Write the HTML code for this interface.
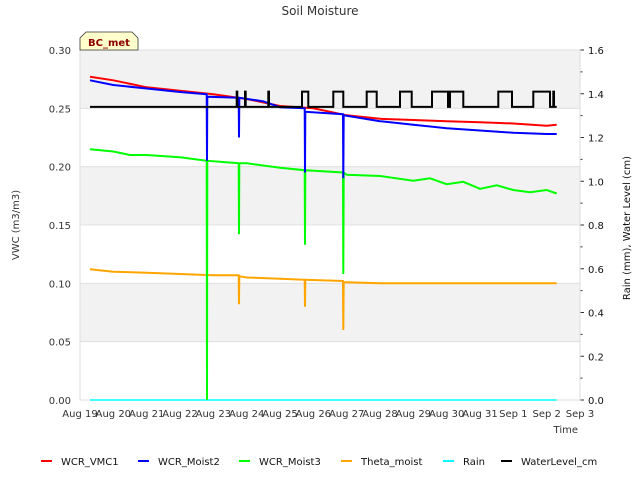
<!DOCTYPE html>
<html><head><meta charset="utf-8"><style>
body{margin:0;background:#fff;font-family:"Liberation Sans","DejaVu Sans",sans-serif}
svg text{font-family:"DejaVu Sans","Liberation Sans",sans-serif}
</style></head><body>
<svg id="c" width="640" height="480" xmlns="http://www.w3.org/2000/svg"></svg>
<script>
const dayLabels=["Aug 19","Aug 20","Aug 21","Aug 22","Aug 23","Aug 24","Aug 25","Aug 26","Aug 27","Aug 28","Aug 29","Aug 30","Aug 31","Sep 1","Sep 2","Sep 3"];
const leftTicks=[0,0.05,0.10,0.15,0.20,0.25,0.30];
const rightTicks=[0,0.2,0.4,0.6,0.8,1.0,1.2,1.4,1.6];
const vmc1T=[0.3,1,2,3,4,5,6,7,8,9,10,11,12,13,14,14.3];
const vmc1V=[0.277,0.274,0.268,0.265,0.262,0.258,0.252,0.250,0.244,0.241,0.240,0.239,0.238,0.237,0.235,0.236];
const m2T=[0.3,1,2,3,3.8,3.81,3.82,4.76,4.77,4.78,5.5,6,6.74,6.75,6.76,7.89,7.9,7.91,9,10,11,12,13,14,14.3];
const m2V=[0.274,0.270,0.267,0.264,0.262,0.205,0.260,0.259,0.225,0.259,0.256,0.251,0.250,0.195,0.247,0.245,0.19,0.244,0.239,0.236,0.233,0.231,0.229,0.228,0.228];
const m3T=[0.3,1,1.5,2,3,3.8,3.81,3.82,4.76,4.77,4.78,5,6,6.74,6.75,6.76,7.89,7.9,7.91,8,9,10,10.5,11,11.5,12,12.5,13,13.5,14,14.3];
const m3V=[0.215,0.213,0.210,0.210,0.208,0.205,0.0,0.205,0.203,0.142,0.203,0.203,0.199,0.197,0.133,0.197,0.195,0.108,0.195,0.193,0.192,0.188,0.190,0.185,0.187,0.181,0.184,0.180,0.178,0.180,0.177];
const thT=[0.3,1,2,3,4,4.76,4.77,4.78,5,6,6.74,6.75,6.76,7.89,7.9,7.91,9,10,11,12,13,14,14.3];
const thV=[0.112,0.110,0.109,0.108,0.107,0.107,0.082,0.106,0.105,0.104,0.103,0.080,0.103,0.102,0.060,0.101,0.100,0.100,0.100,0.100,0.100,0.100,0.100];
const rainT=[0.3,14.3];
const rainV=[0,0];
const wlT=[0.3,4.7,4.7,4.72,4.72,4.95,4.95,4.97,4.97,5.65,5.65,5.67,5.67,6.66,6.66,6.85,6.85,7.6,7.6,7.9,7.9,8.6,8.6,8.9,8.9,9.6,9.6,9.95,9.95,10.56,10.56,11.04,11.04,11.1,11.1,11.5,11.5,12.55,12.55,12.96,12.96,13.6,13.6,14.1,14.1,14.2,14.2,14.22,14.22,14.3];
const wlV=[1.34,1.34,1.41,1.41,1.34,1.34,1.41,1.41,1.34,1.34,1.41,1.41,1.34,1.34,1.41,1.41,1.34,1.34,1.41,1.41,1.34,1.34,1.41,1.41,1.34,1.34,1.41,1.41,1.34,1.34,1.41,1.41,1.34,1.34,1.41,1.41,1.34,1.34,1.41,1.41,1.34,1.34,1.41,1.41,1.34,1.34,1.41,1.41,1.34,1.34];
const L=80,R=580,T=50,B=400;
const X=d=>L+d*(R-L)/15;
const Y=v=>B-v/0.30*(B-T);
const YR=v=>B-v/1.6*(B-T);
const svg=document.getElementById('c');const NS='http://www.w3.org/2000/svg';
function el(t,a,txt){const e=document.createElementNS(NS,t);for(const k in a)e.setAttribute(k,a[k]);if(txt!==undefined)e.textContent=txt;svg.appendChild(e);return e;}
for(let i=0;i<6;i++){if(i%2===1)continue;const top=Y(0.30-i*0.05);const r=el('rect',{x:L,y:top,width:R-L,height:Y(0.25-i*0.05)-top,fill:'#f2f2f2'});

}
leftTicks.forEach(v=>{const g=el('line',{x1:L,x2:R,y1:Y(v),y2:Y(v),stroke:'#dcdcdc','stroke-width':0.8});


const t=el('text',{x:L-9,y:Y(v)+4,'text-anchor':'end','font-size':10,fill:'#333'},v.toFixed(2));

});
rightTicks.forEach(v=>{el('line',{x1:R,x2:R+4,y1:YR(v),y2:YR(v),stroke:'#333'});
const t=el('text',{x:R+8,y:YR(v)+4,'font-size':10,fill:'#111'},v.toFixed(1));


if(v<1.6)el('line',{x1:R,x2:R+2.5,y1:YR(v+0.1),y2:YR(v+0.1),stroke:'#333'});});
dayLabels.forEach((s,i)=>{const t=el('text',{x:X(i),y:B+17,'text-anchor':'middle','font-size':10,fill:'#333'},s);

});
el('rect',{x:L,y:T,width:R-L,height:B-T,fill:'none',stroke:'#ddd'});
function series(ts,vs,col,yf,name,w){const p=ts.map((t,i)=>(i?'L':'M')+X(t).toFixed(1)+','+yf(vs[i]).toFixed(1)).join('');
const e=el('path',{d:p,fill:'none',stroke:col,'stroke-width':w||2});

}
series(rainT,rainV,'#00ffff',YR,'rain-line',1.5);
series(thT,thV,'orange',Y,'theta-moist-line');
series(m3T,m3V,'#00ff00',Y,'wcr-moist3-line');
series(vmc1T,vmc1V,'red',Y,'wcr-vmc1-line');
series(m2T,m2V,'blue',Y,'wcr-moist2-line');
series(wlT,wlV,'black',YR,'waterlevel-line');
let t;
t=el('text',{x:320,y:15,'text-anchor':'middle','font-size':12,fill:'#333'},'Soil Moisture');

t=el('text',{x:19,y:225,'text-anchor':'middle','font-size':10,fill:'#333',transform:'rotate(-90 19 225)'},'VWC (m3/m3)');

t=el('text',{x:630,y:228,'text-anchor':'middle','font-size':10,fill:'#111',transform:'rotate(-90 630 228)'},'Rain (mm), Water Level (cm)');

t=el('text',{x:578,y:433,'text-anchor':'end','font-size':10,fill:'#333'},'Time');

const bx=el('path',{d:'M80,50 L80,38 L86,32 L132,32 L138,38 L138,50 Z',fill:'#ffffcc',stroke:'#333','stroke-width':0.8});

t=el('text',{x:109,y:46,'text-anchor':'middle','font-size':10,'font-weight':'bold',fill:'#8b0000'},'BC_met');

const leg=[['WCR_VMC1','red',41],['WCR_Moist2','blue',138],['WCR_Moist3','#00ff00',239],['Theta_moist','orange',341],['Rain','#00ffff',443],['WaterLevel_cm','black',501]];
leg.forEach(([n,c,x])=>{el('line',{x1:x,x2:x+11,y1:461,y2:461,stroke:c,'stroke-width':2});
const tt=el('text',{x:x+20,y:465,'font-size':10,fill:'#111'},n);

});
</script></body></html>
